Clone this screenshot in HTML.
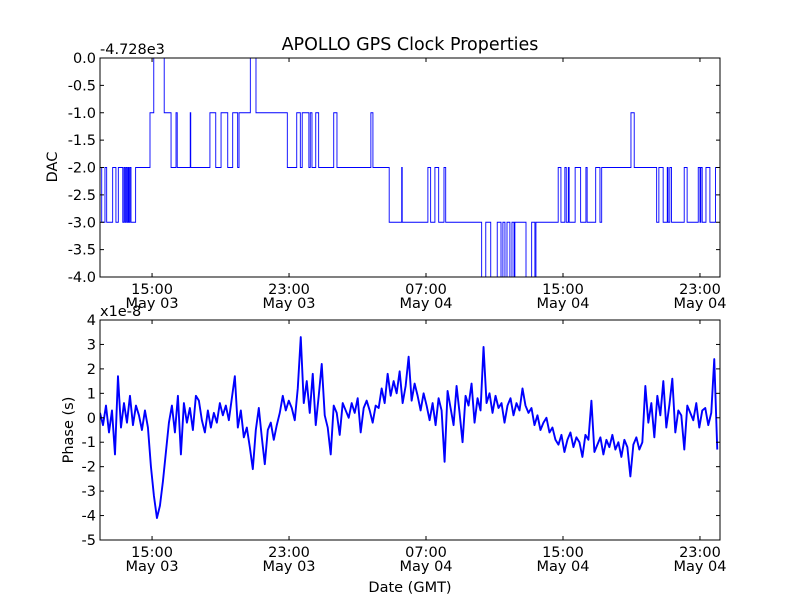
<!DOCTYPE html>
<html><head><meta charset="utf-8"><style>
body{margin:0;background:#fff}
svg{display:block;font-family:"DejaVu Sans","Liberation Sans",sans-serif}
</style></head><body>
<svg id="chart" width="800" height="600" viewBox="0 0 800 600">
<rect width="800" height="600" fill="#fff"/>
<text x="410" y="50" font-size="17.5" text-anchor="middle">APOLLO GPS Clock Properties</text>
</svg>
<script>
// ---- data ----
const xTickHours = [15, 23, 31, 39, 47];
const xTickTimes = ["15:00", "23:00", "07:00", "15:00", "23:00"];
const xTickDates = ["May 03", "May 03", "May 04", "May 04", "May 04"];
const dacTicks = [0, -0.5, -1, -1.5, -2, -2.5, -3, -3.5, -4];
const dacTickLabels = ["0.0","-0.5","-1.0","-1.5","-2.0","-2.5","-3.0","-3.5","-4.0"];
const phaseTicks = [4,3,2,1,0,-1,-2,-3,-4,-5];
const phaseTickLabels = ["4","3","2","1","0","-1","-2","-3","-4","-5"];
// DAC steps: time (hours since start of plot), value (offset from -4728)
const dacTimes = [0,0.10,0.29,0.39,0.74,0.93,1.07,1.33,1.40,1.46,1.52,1.58,1.64,1.69,1.75,1.81,2.08,2.92,3.14,3.75,4.15,4.44,4.51,5.27,5.30,6.42,6.76,7.07,7.46,7.75,8.04,8.12,8.78,9.11,10.94,11.49,11.70,11.81,12.20,12.28,12.38,12.60,12.77,13.65,13.84,15.82,15.94,16.89,17.62,17.65,19.15,19.31,19.56,19.78,20.09,20.19,22.29,22.53,22.82,23.20,23.42,23.53,23.65,23.77,23.94,24.06,24.18,24.23,24.88,25.21,25.40,25.46,26.76,26.92,27.15,27.23,27.35,27.40,27.75,28.07,28.38,28.45,28.95,29.20,29.30,31.01,31.20,32.51,32.64,32.89,33.13,33.18,33.28,33.38,34.12,34.29,34.94,35.04,35.09,35.17,35.39,35.62,35.95];
const dacValues = [-2,-3,-2,-3,-2,-3,-2,-3,-2,-3,-2,-3,-2,-3,-2,-3,-2,-1,0,-1,-2,-1,-2,-1,-2,-1,-2,-1,-2,-1,-2,-1,0,-1,-2,-1,-2,-1,-2,-1,-2,-1,-2,-1,-2,-1,-2,-3,-2,-3,-2,-3,-2,-3,-2,-3,-4,-3,-4,-3,-4,-3,-4,-3,-4,-3,-4,-3,-4,-3,-4,-3,-2,-3,-2,-3,-2,-3,-2,-3,-2,-3,-2,-3,-2,-1,-2,-3,-2,-3,-2,-3,-2,-3,-2,-3,-2,-3,-2,-3,-2,-3,-2];
const dacEnd = 36.2;
// Phase (units of 1e-8 s), evenly sampled
const phaseStartHour = 11.96;
const phaseStepHours = 0.175;
const phaseValues = [0.2,-0.3,0.5,-0.6,0.3,-1.5,1.7,-0.4,0.6,-0.2,0.9,-0.3,0.5,0.1,-0.5,0.3,-0.4,
-2.0,-3.2,-4.1,-3.6,-2.6,-1.4,-0.2,
0.5,-0.6,0.9,-1.5,0.6,-0.2,0.4,-0.5,0.9,0.7,
-0.1,-0.6,0.3,-0.4,0.2,-0.2,0.6,0.1,0.5,-0.1,
0.8,1.7,-0.4,0.3,-0.8,-0.4,-1.2,-2.1,-0.5,0.4,
-0.8,-1.9,-0.5,-0.2,-0.9,-0.3,0.2,0.9,0.3,0.7,
0.4,-0.1,1.2,3.3,0.6,1.5,0.2,1.8,-0.3,0.9,
2.2,0.1,-0.4,-1.5,0.5,0.2,-0.7,0.6,0.3,0.0,
0.6,0.2,0.8,-0.6,0.4,0.7,0.3,-0.2,0.5,0.4,
1.2,0.6,1.8,0.9,1.5,1.0,1.9,0.6,1.3,2.5,
0.7,1.4,0.9,0.3,1.0,0.5,-0.1,0.6,-0.3,0.8,
0.3,-1.8,1.1,0.4,-0.3,1.3,0.2,-1.0,0.9,0.5,
1.4,-0.2,0.8,0.3,2.9,0.6,1.0,0.2,0.9,0.4,
0.6,-0.2,0.5,0.8,0.1,0.6,0.3,1.2,0.5,0.2,
0.4,-0.3,0.1,-0.5,-0.2,0.0,-0.6,-0.4,-0.9,-1.1,
-0.7,-1.4,-0.9,-0.6,-1.2,-0.8,-1.0,-1.6,-0.7,-0.9,
0.7,-1.4,-1.1,-0.8,-1.5,-0.9,-1.2,-0.7,-1.3,-1.0,
-1.6,-0.9,-1.2,-2.4,-1.1,-0.8,-1.3,-1.0,1.3,-0.2,
0.6,-0.8,0.9,0.1,1.5,-0.4,0.5,1.6,-0.6,0.3,
0.1,-1.3,0.5,0.2,-0.1,0.6,-0.4,0.3,0.4,-0.3,
0.2,2.4,-1.3];

// ---- layout / scales ----
const NS = "http://www.w3.org/2000/svg";
const svg = document.getElementById("chart");
const L = 100, R = 720;
const H0 = 11.96, H1 = 48.17;
const xs = h => L + (h - H0) / (H1 - H0) * (R - L);
const top1 = 58, bot1 = 277, top2 = 320, bot2 = 540;
const yDac = v => top1 + (0 - v) / 4 * (bot1 - top1);
const yPh = v => top2 + (4 - v) / 9 * (bot2 - top2);
const FS = 14.5;
function mk(tag, attrs, parent) {
  const e = document.createElementNS(NS, tag);
  for (const k in attrs) e.setAttribute(k, attrs[k]);
  (parent || svg).appendChild(e);
  return e;
}

function axes(top, bot, ticks, labels, yf, name) {
  const g = mk("g", {});
  
  
  ticks.forEach((t, i) => {
    const y = yf(t);
    mk("line", {x1: L, x2: L + 4, y1: y, y2: y, stroke: "#000", "stroke-width": 1}, g);
    mk("line", {x1: R - 4, x2: R, y1: y, y2: y, stroke: "#000", "stroke-width": 1}, g);
    const tx = mk("text", {x: L - 4, y: y + 5, "font-size": FS, "text-anchor": "end"}, g);
    tx.textContent = labels[i];
    
    
  });
  xTickHours.forEach((h, i) => {
    const x = xs(h);
    mk("line", {x1: x, x2: x, y1: bot, y2: bot - 4, stroke: "#000", "stroke-width": 1}, g);
    mk("line", {x1: x, x2: x, y1: top, y2: top + 4, stroke: "#000", "stroke-width": 1}, g);
    const t1 = mk("text", {x: x, y: bot + 17, "font-size": FS, "text-anchor": "middle"}, g);
    t1.textContent = xTickTimes[i];
    
    
    const t2 = mk("text", {x: x, y: bot + 31, "font-size": FS, "text-anchor": "middle"}, g);
    t2.textContent = xTickDates[i];
    
    
  });
}

// DAC series
let d = "";
dacTimes.forEach((t, i) => {
  const x = xs(H0 + t), y = yDac(dacValues[i]);
  if (i === 0) d += `M${x},${y}`;
  else d += `L${x},${yDac(dacValues[i-1])}L${x},${y}`;
});
d += `L${xs(H0 + dacEnd)},${yDac(dacValues[dacValues.length-1])}`;
const clip1 = mk("clipPath", {id: "c1"});
mk("rect", {x: L, y: top1, width: R - L, height: bot1 - top1}, clip1);
const dacLine = mk("path", {d: d, fill: "none", stroke: "#0000ff", "stroke-width": 0.9, "clip-path": "url(#c1)"});



// Phase series
let p = "";
phaseValues.forEach((v, i) => {
  const x = xs(phaseStartHour + i * phaseStepHours), y = yPh(v);
  p += (i ? "L" : "M") + x + "," + y;
});
const clip2 = mk("clipPath", {id: "c2"});
mk("rect", {x: L, y: top2, width: R - L, height: bot2 - top2}, clip2);
const phLine = mk("path", {d: p, fill: "none", stroke: "#0000ff", "stroke-width": 1.9, "stroke-linejoin": "round", "clip-path": "url(#c2)"});



axes(top1, bot1, dacTicks, dacTickLabels, yDac, "dac");
axes(top2, bot2, phaseTicks, phaseTickLabels, yPh, "phase");

const f1 = mk("rect", {x: L, y: top1, width: R - L, height: bot1 - top1, fill: "none", stroke: "#000", "stroke-width": 1});


const f2 = mk("rect", {x: L, y: top2, width: R - L, height: bot2 - top2, fill: "none", stroke: "#000", "stroke-width": 1});



function label(txt, attrs, name) {
  const t = mk("text", attrs);
  t.textContent = txt;
  
  
}
label("-4.728e3", {x: 100, y: 54, "font-size": FS}, "dac-offset-text");
label("x1e-8", {x: 100, y: 316, "font-size": FS}, "phase-offset-text");
label("DAC", {x: 57, y: 167, "font-size": FS, "text-anchor": "middle", transform: "rotate(-90 57 167)"}, "dac-y-axis-title");
label("Phase (s)", {x: 73, y: 430, "font-size": FS, "text-anchor": "middle", transform: "rotate(-90 73 430)"}, "phase-y-axis-title");
label("Date (GMT)", {x: 410, y: 592, "font-size": FS, "text-anchor": "middle"}, "x-axis-title");
</script>
</body></html>
